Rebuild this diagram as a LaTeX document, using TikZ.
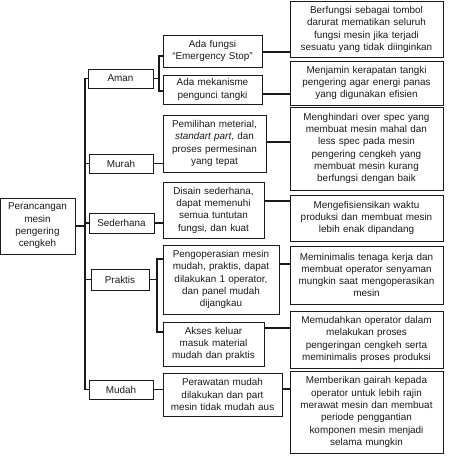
\documentclass[tikz,border=0pt]{standalone}
\usepackage{fontspec}
\setmainfont{Liberation Sans}
\usetikzlibrary{calc}
\definecolor{ink}{HTML}{1A1A1A}
\begin{document}
\begin{tikzpicture}[x=1pt,y=-1pt,
  bx/.style={draw=ink,line width=1pt,fill=white,inner sep=0pt,align=center,text=ink,
    font=\fontsize{9.9}{12.3}\selectfont},
  ln/.style={draw=ink,line width=1.1pt}]
\useasboundingbox (0,0) rectangle (450,463);
% root
\node[bx,minimum width=75,minimum height=56,text width=73] (root) at (37.5,226) {Perancangan\\mesin\\pengering\\cengkeh};
% level 1
\node[bx,minimum width=65,minimum height=19] (aman) at (120.5,78.5) {Aman};
\node[bx,minimum width=64,minimum height=19] (murah) at (121,163.5) {Murah};
\node[bx,minimum width=65,minimum height=20] (sederhana) at (121.5,223) {Sederhana};
\node[bx,minimum width=58,minimum height=21] (praktis) at (120,279.5) {Praktis};
\node[bx,minimum width=64,minimum height=19] (mudah) at (121,389.5) {Mudah};
% level 2
\node[bx,minimum width=99,minimum height=32,text width=97] (a1) at (212.5,51) {Ada fungsi\\``Emergency Stop''};
\node[bx,minimum width=99,minimum height=29,text width=97] (a2) at (212.5,89.5) {Ada mekanisme\\pengunci tangki};
\node[bx,minimum width=103,minimum height=57,text width=101] (m1) at (214.5,143.5) {Pemilihan meterial,\\\textit{standart part}, dan\\proses permesinan\\yang tepat};
\node[bx,minimum width=101,minimum height=56,text width=99] (s1) at (213.5,210) {Disain sederhana,\\dapat memenuhi\\semua tuntutan\\fungsi, dan kuat};
\node[bx,minimum width=116,minimum height=69,text width=114] (p1) at (221,279.5) {Pengoperasian mesin\\mudah, praktis, dapat\\dilakukan 1 operator,\\dan panel mudah\\dijangkau};
\node[bx,minimum width=101,minimum height=44,text width=99] (p2) at (213.5,344) {Akses keluar\\masuk material\\mudah dan praktis};
\node[bx,minimum width=119,minimum height=43,text width=117] (d1) at (222.5,394.5) {Perawatan mudah\\dilakukan dan part\\mesin tidak mudah aus};
% level 3
\node[bx,minimum width=153,minimum height=56,text width=151] (l1) at (366.5,29.5) {Berfungsi sebagai tombol\\darurat mematikan seluruh\\fungsi mesin jika terjadi\\sesuatu yang tidak diinginkan};
\node[bx,minimum width=153,minimum height=44,text width=151] (l2) at (366.5,83) {Menjamin kerapatan tangki\\pengering agar energi panas\\yang digunakan efisien};
\node[bx,minimum width=153,minimum height=83,text width=151] (l3) at (366.5,148.5) {Menghindari over spec yang\\membuat mesin mahal dan\\less spec pada mesin\\pengering cengkeh yang\\membuat mesin kurang\\berfungsi dengan baik};
\node[bx,minimum width=153,minimum height=46,text width=151] (l4) at (366.5,218) {Mengefisiensikan waktu\\produksi dan membuat mesin\\lebih enak dipandang};
\node[bx,minimum width=153,minimum height=58,text width=151] (l5) at (366.5,275) {Meminimalis tenaga kerja dan\\membuat operator senyaman\\mungkin saat mengoperasikan\\mesin};
\node[bx,minimum width=153,minimum height=57,text width=151] (l6) at (366.5,339.5) {Memudahkan operator dalam\\melakukan proses\\pengeringan cengkeh serta\\meminimalis proses produksi};
\node[bx,minimum width=153,minimum height=82,text width=151] (l7) at (366.5,412) {Memberikan gairah kepada\\operator untuk lebih rajin\\merawat mesin dan membuat\\periode penggantian\\komponen mesin menjadi\\selama mungkin};
% trunk
\coordinate (t) at (85,0);
\draw[ln] (root.east) -- (root.east -| t);
\draw[ln] (aman.west) -- (aman.west -| t) -- (mudah.west -| t) -- (mudah.west);
\draw[ln] (murah.west) -- (murah.west -| t);
\draw[ln] (sederhana.west) -- (sederhana.west -| t);
\draw[ln] (praktis.west) -- (praktis.west -| t);
% aman bracket
\coordinate (ab) at (159,0);
\draw[ln] (aman.east) -- (aman.east -| ab);
\draw[ln] (a1.west |- {0,56}) -- (ab |- {0,56}) -- (ab |- {0,91}) -- (a2.west |- {0,91});
% praktis bracket
\coordinate (pb) at (157,0);
\draw[ln] (praktis.east) -- (praktis.east -| pb);
\draw[ln] (p1.west |- {0,259}) -- (pb |- {0,259}) -- (pb |- {0,332}) -- (p2.west |- {0,332});
% level1 -> level2
\draw[ln] (murah.east) -- (murah.east -| m1.west);
\draw[ln] (sederhana.east) -- (sederhana.east -| s1.west);
\draw[ln] (mudah.east) -- (mudah.east -| d1.west);
% level2 -> level3
\draw[ln] (a1.east |- {0,52}) -- (l1.west |- {0,52});
\draw[ln] (a2.east |- {0,94}) -- (l2.west |- {0,94});
\draw[ln] (m1.east |- {0,142}) -- (l3.west |- {0,142});
\draw[ln] (s1.east |- {0,201}) -- (l4.west |- {0,201});
\draw[ln] (p1.east |- {0,264}) -- (l5.west |- {0,264});
\draw[ln] (p2.east |- {0,328}) -- (l6.west |- {0,328});
\draw[ln] (d1.east |- {0,389}) -- (l7.west |- {0,389});
\end{tikzpicture}
\end{document}
